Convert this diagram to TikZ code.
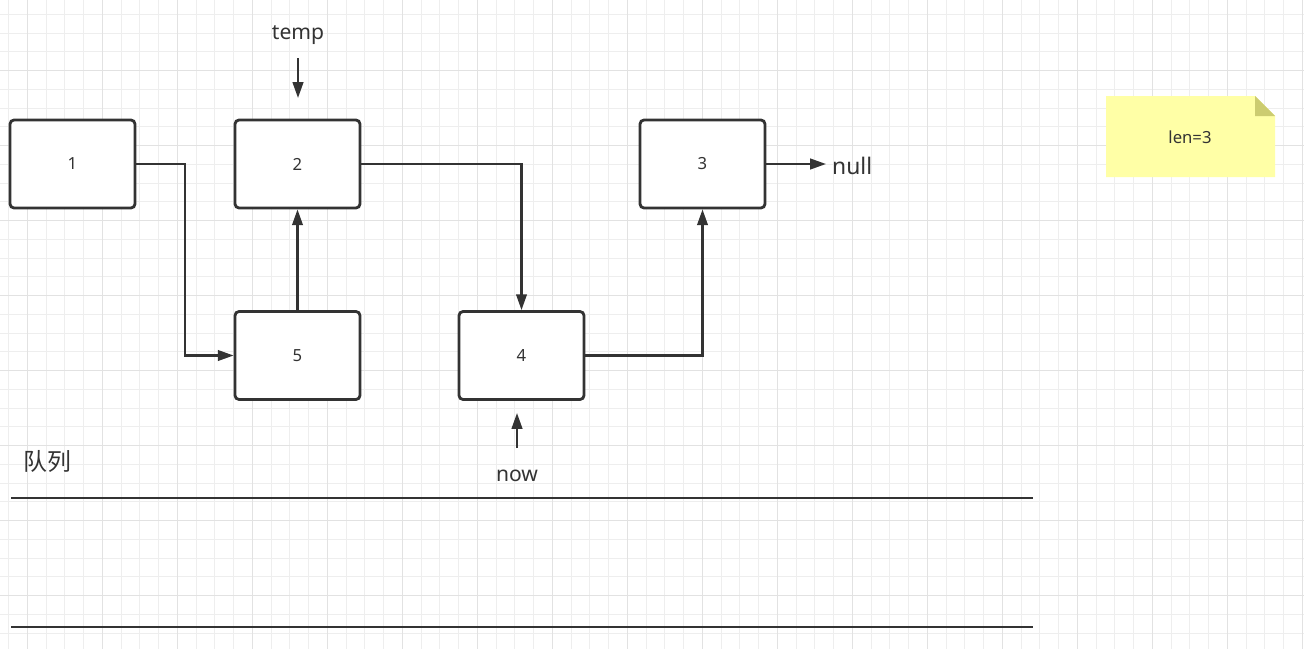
\documentclass[tikz,border=0pt]{standalone}
\usepackage{fontspec}
\setmainfont{Noto Sans}
\newfontfamily\cjk{Noto Sans CJK SC}
\usetikzlibrary{positioning,arrows.meta}

\definecolor{ink}{HTML}{333333}
\definecolor{gridminor}{HTML}{EEEEEE}
\definecolor{gridmajor}{HTML}{E2E2E2}
\definecolor{notefill}{HTML}{FFFFA6}
\definecolor{notefold}{HTML}{CCCC70}

\begin{document}
\begin{tikzpicture}[
        x=0.02cm, y=-0.02cm,
        listnode/.style={rectangle, draw=ink, line width=1.6pt, rounded corners=0.08cm,
          minimum width=2.5cm, minimum height=1.76cm, align=center, fill=white,
          font=\fontsize{9.5}{11}\selectfont, text=ink},
        link/.style={-{Triangle[length=9pt, width=6pt]}, draw=ink, line width=1.3pt},
        tag/.style={font=\fontsize{12}{14}\selectfont, text=ink},
        rail/.style={draw=ink, line width=1.5pt}
      ]
      \useasboundingbox (0,0) rectangle (1304,649);
      \fill[white] (0,0) rectangle (1304,649);

      % Background grid
      \foreach \gx in {8.7,27.45,...,1304} {\draw[gridminor, line width=0.6pt] (\gx,0) -- (\gx,649);}
      \foreach \gy in {14.45,33.2,...,649} {\draw[gridminor, line width=0.6pt] (0,\gy) -- (1304,\gy);}
      \foreach \gx in {27.7,102.7,...,1304} {\draw[gridmajor, line width=0.7pt] (\gx,0) -- (\gx,649);}
      \foreach \gy in {70.7,145.7,...,649} {\draw[gridmajor, line width=0.7pt] (0,\gy) -- (1304,\gy);}

      % List nodes
      \node[listnode] (n1) at (72.5,164) {1};
      \node[listnode] (n2) at (297.5,164) {2};
      \node[listnode] (n3) at (702.5,164) {3};
      \node[listnode] (n5) at (297.5,355.5) {5};
      \node[listnode] (n4) at (521.5,355.5) {4};

      % Pointers
      \node[tag] (temp) at (298,35) {temp};
      \coordinate (tempA) at (298,58);
      \coordinate (tempB) at (298,98);
      \node[tag] (now) at (517,476) {now};
      \coordinate (nowA) at (517,448);
      \coordinate (nowB) at (517,413);
      \node[font=\fontsize{13}{15}\selectfont, text=ink, anchor=west] (null) at (826,166) {null};

      % Links
      \coordinate (bend1) at (185,164);
      \draw[link] (n1.east) -- (bend1) |- (n5.west);
      \draw[link] (n5.north) -- (n2.south);
      \draw[link] (n2.east) -| (n4.north);
      \draw[link] (n4.east) -| (n3.south);
      \draw[link] (n3.east) -- (null.west |- n3.east);
      \draw[link] (tempA) -- (tempB);
      \draw[link] (nowA) -- (nowB);

      % Queue
      \node[font=\cjk\fontsize{13.6}{16}\selectfont, text=ink] (queue) at (47,461) {队列};
      \coordinate (qTopL) at (11,498);
      \coordinate (qTopR) at (1033,498);
      \coordinate (qBotL) at (11,627);
      \coordinate (qBotR) at (1033,627);
      \draw[rail] (qTopL) -- (qTopR);
      \draw[rail] (qBotL) -- (qBotR);

      % Note
      \fill[notefill] (1106,96) -- (1255,96) -- (1275,116) -- (1275,177) -- (1106,177) -- cycle;
      \fill[notefold] (1255,96) -- (1275,116) -- (1255,116) -- cycle;
      \node[font=\fontsize{9.5}{11}\selectfont, text=ink] (len) at (1190,137) {len=3};

    \end{tikzpicture}
\end{document}
